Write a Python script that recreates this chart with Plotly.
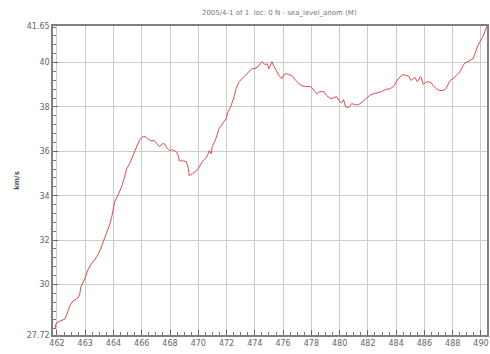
import numpy as np
import plotly.graph_objects as go

# Sampled record: position along the track and measured value
x_vals = [
    461.87, 461.93, 462.07, 462.26, 462.53, 462.72, 462.85, 463.05, 463.25, 463.38,
    463.51, 463.58, 463.84, 464.04, 464.23, 464.43, 464.63, 464.83, 464.96, 465.15,
    465.29, 465.48, 465.62, 465.81, 466.01, 466.27, 466.47, 466.60, 466.80, 466.93,
    467.13, 467.26, 467.46, 467.65, 467.85, 467.98, 468.18, 468.44, 468.64, 468.77,
    468.97, 469.10, 469.30, 469.43, 469.62, 469.89, 470.02, 470.08, 470.35, 470.55,
    470.68, 470.74, 470.94, 471.20, 471.40, 471.60, 471.79, 471.93, 472.06, 472.19,
    472.25, 472.45, 472.71, 472.91, 473.17, 473.31, 473.50, 473.70, 473.83, 474.03,
    474.23, 474.49, 474.69, 474.88, 475.08, 475.28, 475.54, 475.74, 475.87, 476.00,
    476.20, 476.33, 476.53, 476.66, 476.86, 476.99, 477.18, 477.38, 477.51, 477.78,
    477.97, 478.17, 478.43, 478.76, 478.96, 479.16, 479.35, 479.62, 479.81, 480.08,
    480.27, 480.47, 480.67, 480.80, 480.93, 481.06, 481.26, 481.46, 481.72, 481.92,
    482.18, 482.38, 482.64, 482.90, 483.17, 483.43, 483.69, 484.02, 484.22, 484.35,
    484.55, 484.74, 484.87, 485.07, 485.20, 485.40, 485.53, 485.66, 485.79, 485.86,
    485.99, 486.06, 486.19, 486.32, 486.52, 486.71, 486.85, 487.04, 487.24, 487.50,
    487.70, 487.83, 487.96, 488.16, 488.29, 488.49, 488.62, 488.82, 488.95, 489.15,
    489.34, 489.48, 489.61, 489.67, 489.80, 489.94, 490.13, 490.26, 490.40,
]
y_vals = [
    27.99, 28.21, 28.31, 28.35, 28.44, 28.76, 29.03, 29.25, 29.34, 29.39,
    29.57, 29.89, 30.25, 30.65, 30.88, 31.06, 31.24, 31.51, 31.74, 32.05,
    32.37, 32.69, 33.05, 33.72, 33.99, 34.40, 34.85, 35.21, 35.44, 35.66,
    36.03, 36.25, 36.52, 36.66, 36.66, 36.57, 36.48, 36.48, 36.34, 36.21,
    36.34, 36.34, 36.12, 36.03, 36.07, 35.98, 35.80, 35.57, 35.57, 35.53,
    35.21, 34.90, 34.99, 35.12, 35.30, 35.53, 35.67, 35.80, 36.03, 35.89,
    36.21, 36.48, 37.02, 37.20, 37.47, 37.79, 38.06, 38.46, 38.83, 39.14,
    39.28, 39.50, 39.64, 39.73, 39.73, 39.82, 40.04, 39.91, 39.95, 39.73,
    40.04, 39.82, 39.59, 39.41, 39.28, 39.46, 39.50, 39.46, 39.41, 39.19,
    39.05, 38.96, 38.92, 38.92, 38.74, 38.60, 38.69, 38.69, 38.51, 38.37,
    38.42, 38.46, 38.24, 38.19, 38.33, 38.01, 37.97, 38.15, 38.10, 38.10,
    38.24, 38.37, 38.51, 38.60, 38.64, 38.69, 38.78, 38.83, 38.92, 39.05,
    39.28, 39.41, 39.46, 39.41, 39.41, 39.19, 39.28, 39.32, 39.14, 39.19,
    39.37, 39.32, 39.01, 39.10, 39.14, 39.10, 38.96, 38.83, 38.74, 38.74,
    38.83, 39.01, 39.19, 39.28, 39.37, 39.50, 39.59, 39.86, 40.00, 40.04,
    40.13, 40.18, 40.41, 40.54, 40.77, 40.95, 41.17, 41.40, 41.65,
]

# Axis labelling
x_tick_text = ["462", "463", "464", "466", "468", "470", "472", "474",
               "476", "478", "480", "482", "484", "486", "488", "490"]
y_tick_vals = [27.72, 30, 32, 34, 36, 38, 40, 41.65]
y_tick_text = ["27.72", "30", "32", "34", "36", "38", "40", "41.65"]
title_text = "2005/4-1 of 1  loc: 0 N - sea_level_anom (M)"
y_title = "km/s"

x_tick_vals = list(np.linspace(462, 490, len(x_tick_text)))
x_step = (490 - 462) / (len(x_tick_text) - 1)

fig = go.Figure()
fig.add_trace(go.Scatter(
    x=x_vals, y=y_vals, mode="lines",
    line=dict(color="#e34a4a", width=1),
    hoverinfo="skip", showlegend=False,
))

tick_font = dict(family="DejaVu Sans", size=8, color="#666666")

fig.update_layout(
    width=490, height=354,
    margin=dict(l=53, r=1, t=26, b=19),
    paper_bgcolor="white", plot_bgcolor="white",
    title=dict(text=title_text, x=0.57, xanchor="center", y=0.965, yanchor="middle",
               font=dict(family="DejaVu Sans", size=7, color="#777777")),
)

fig.update_xaxes(
    range=[461.74, 490.40],
    tickmode="array", tickvals=x_tick_vals, ticktext=x_tick_text,
    ticks="inside", ticklen=5, tickcolor="#666666", tickwidth=1,
    minor=dict(ticks="inside", ticklen=3, tick0=462, dtick=x_step / 4,
               tickcolor="#777777", showgrid=False),
    showgrid=True, gridcolor="#cccccc", gridwidth=1,
    showline=True, linecolor="#808080", linewidth=1.5, mirror=True,
    tickfont=tick_font, zeroline=False,
)

fig.update_yaxes(
    range=[27.72, 41.65],
    tickmode="array", tickvals=y_tick_vals, ticktext=y_tick_text,
    ticks="inside", ticklen=5, tickcolor="#666666", tickwidth=1,
    minor=dict(ticks="inside", ticklen=3, tick0=0, dtick=0.4,
               tickcolor="#777777", showgrid=False),
    showgrid=True, gridcolor="#cccccc", gridwidth=1,
    showline=True, linecolor="#808080", linewidth=1.5, mirror=True,
    tickfont=tick_font, zeroline=False,
    title=dict(text="<b>" + y_title + "</b>", standoff=6,
               font=dict(family="DejaVu Sans", size=7, color="#555555")),
)

fig.write_html("out.html")
